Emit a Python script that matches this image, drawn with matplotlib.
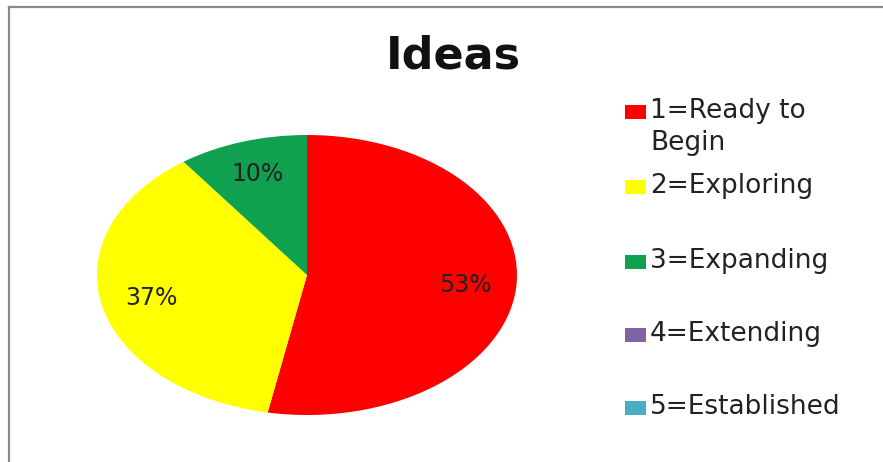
import matplotlib.pyplot as plt
from matplotlib.lines import Line2D
from matplotlib.patches import Rectangle

# Données du graphique
titre = "Ideas"
categories = ["1=Ready to\nBegin", "2=Exploring", "3=Expanding",
              "4=Extending", "5=Established"]
pourcentages = [53, 37, 10, 0, 0]
couleurs = ["#FF0000", "#FFFF00", "#0FA050", "#8064A2", "#4BACC6"]


def etiquette(pct):
    # pas d'étiquette pour les parts vides
    return f"{pct:.0f}%" if pct > 0.5 else ""


W, H = 883, 462
fig = plt.figure(figsize=(W / 100, H / 100), dpi=100)
fig.patch.set_facecolor("white")


def fx(px):
    return px / W


def fy(py):
    return 1 - py / H


# cadre (bords haut et gauche visibles)
fig.add_artist(Line2D([fx(9), fx(9)], [0, fy(7)], color="#8a8a8a",
                      lw=1.6, transform=fig.transFigure))
fig.add_artist(Line2D([fx(9), 1], [fy(7), fy(7)], color="#8a8a8a",
                      lw=1.6, transform=fig.transFigure))

# camembert elliptique 420 x 280 px centré en (307, 275)
cx, cy, rx, ry = 307, 275, 210, 140
ax = fig.add_axes([fx(cx - rx), fy(cy + ry), 2 * rx / W, 2 * ry / H])
wedges, textes, autotextes = ax.pie(
    pourcentages, colors=couleurs, startangle=90, counterclock=False,
    autopct=etiquette, pctdistance=0.76, radius=1.0,
    wedgeprops=dict(linewidth=0),
    textprops=dict(fontsize=17, color="#222222"))
ax.set_aspect("auto")
ax.set_xlim(-1, 1)
ax.set_ylim(-1, 1)
ax.axis("off")

fig.text(fx(453), fy(56), titre, ha="center", va="center",
         fontsize=32, fontweight="bold", color="#111111")

# légende à droite : carré de couleur + libellé
lignes_y = [112, 187, 262, 335, 408]
for coul, nom, y in zip(couleurs, categories, lignes_y):
    fig.add_artist(Rectangle((fx(625), fy(y + 7)), 21 / W, 14 / H,
                             facecolor=coul, edgecolor="none",
                             transform=fig.transFigure))
    fig.text(fx(650), fy(y - 14), nom, ha="left", va="top",
             fontsize=19, color="#222222", linespacing=1.3)

fig.savefig("out.png", dpi=100, facecolor="white")
